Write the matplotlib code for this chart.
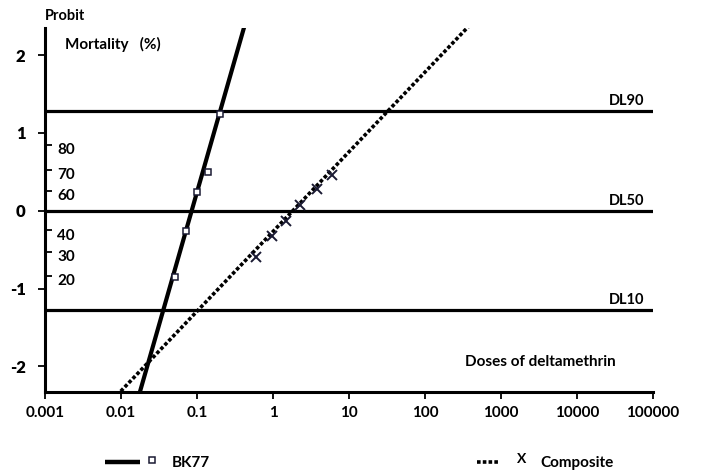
import matplotlib
matplotlib.use("Agg")
import matplotlib.pyplot as plt
from matplotlib.lines import Line2D
import numpy as np
from statistics import NormalDist

# ---------------- data ----------------
bk77_dose = [0.052, 0.072, 0.10, 0.14, 0.20]
bk77_probit = [-0.85, -0.26, 0.24, 0.50, 1.24]
bk77_intercept = 3.66
bk77_slope = 3.42

comp_dose = [0.60, 0.97, 1.48, 2.3, 3.8, 6.0]
comp_probit = [-0.59, -0.33, -0.13, 0.08, 0.28, 0.46]
comp_intercept = -0.267
comp_slope = 1.025

x_ticks = [1e-3, 1e-2, 1e-1, 1, 10, 100, 1000, 10000, 100000]
x_ticklabels = ["0.001", "0.01", "0.1", "1", "10", "100", "1000", "10000", "100000"]
y_ticks = [-2, -1, 0, 1, 2]
mortality_pct = [20, 30, 40, 60, 70, 80]
dl_levels = [90, 50, 10]
dl_labels = ["DL90", "DL50", "DL10"]

FONT = ["Lato", "DejaVu Sans"]
plt.rcParams["font.family"] = FONT

fig = plt.figure(figsize=(7.02, 4.74), dpi=100)
ax = fig.add_axes([45/702, 1-392/474, 608/702, 364/474])
ax.set_xscale("log")
ax.set_xlim(1e-3, 1e5)
ax.set_ylim(-2.33, 2.35)

for s in ["top", "right"]:
    ax.spines[s].set_visible(False)
for s in ["left", "bottom"]:
    ax.spines[s].set_linewidth(2.2)

# DL lines
nd = NormalDist()
for lvl, lab in zip(dl_levels, dl_labels):
    p = nd.inv_cdf(lvl / 100)
    ax.axhline(p, color="black", lw=2.3, zorder=2)
    ax.text(0.985, p + 0.04, lab, transform=ax.get_yaxis_transform(), ha="right",
            va="bottom", fontsize=10.5, fontweight="bold")

# regression lines
xs = np.logspace(-3, 5, 400)
ax.plot(xs, bk77_intercept + bk77_slope*np.log10(xs), color="black", lw=3, zorder=3,
        solid_capstyle="butt")
ax.plot(xs, comp_intercept + comp_slope*np.log10(xs), color="black", lw=2.6, zorder=3,
        linestyle=(0, (1, 0.6)), dash_capstyle="butt")

# points
ax.plot(bk77_dose, bk77_probit, linestyle="none", marker="s", markersize=4.5,
        markerfacecolor="white", markeredgecolor="#1a1a33", markeredgewidth=1.1, zorder=4)
ax.plot(comp_dose, comp_probit, linestyle="none", marker="x", markersize=6.5,
        markeredgecolor="#1a1a33", markeredgewidth=1.4, zorder=4)

# ticks
ax.set_xticks(x_ticks)
ax.set_xticklabels(x_ticklabels, fontsize=11, fontweight="bold")
ax.xaxis.set_minor_locator(matplotlib.ticker.NullLocator())
ax.tick_params(axis="x", which="major", direction="out", length=5, width=1.3, pad=5)
ax.set_yticks(y_ticks)
ax.set_yticklabels([str(v) for v in y_ticks], fontsize=12, fontweight="heavy")
ax.tick_params(axis="y", which="major", direction="out", length=5, width=1.3, pad=9)

mp = [nd.inv_cdf(v/100) for v in mortality_pct]
ax.set_yticks(mp, minor=True)
ax.tick_params(axis="y", which="minor", direction="in", length=5, width=1.3, labelleft=False)
for v, p in zip(mortality_pct, mp):
    ax.text(0.02, p - 0.065, str(v), transform=ax.get_yaxis_transform(), ha="left",
            va="center", fontsize=11, fontweight="bold")

# axis titles
fig.text(45/702, 1-16/474, "Probit", ha="left", va="center", fontsize=10.5, fontweight="bold")
fig.text(65/702, 1-44/474, "Mortality   (%)", ha="left", va="center", fontsize=11,
         fontweight="bold")
fig.text(540/702, 1-362/474, "Doses of deltamethrin", ha="center", va="center",
         fontsize=11, fontweight="bold")

# legend (manual)
fig.add_artist(Line2D([105/702, 140/702], [1-462/474]*2, color="black", lw=3.2,
                      transform=fig.transFigure, solid_capstyle="butt"))
fig.add_artist(Line2D([152/702], [1-460/474], marker="s", markersize=4.5, linestyle="none",
                      markerfacecolor="white", markeredgecolor="#1a1a33", markeredgewidth=1.1,
                      transform=fig.transFigure))
fig.text(172/702, 1-463/474, "BK77", ha="left", va="center", fontsize=11, fontweight="bold")
fig.add_artist(Line2D([477/702, 500/702], [1-462/474]*2, color="black", lw=2.6,
                      linestyle=(0, (1, 0.6)), dash_capstyle="butt", transform=fig.transFigure))
fig.text(522/702, 1-459/474, "X", ha="center", va="center", fontsize=10, fontweight="bold")
fig.text(540/702, 1-463/474, "Composite", ha="left", va="center", fontsize=11, fontweight="bold")

fig.savefig("out.png", dpi=100)
